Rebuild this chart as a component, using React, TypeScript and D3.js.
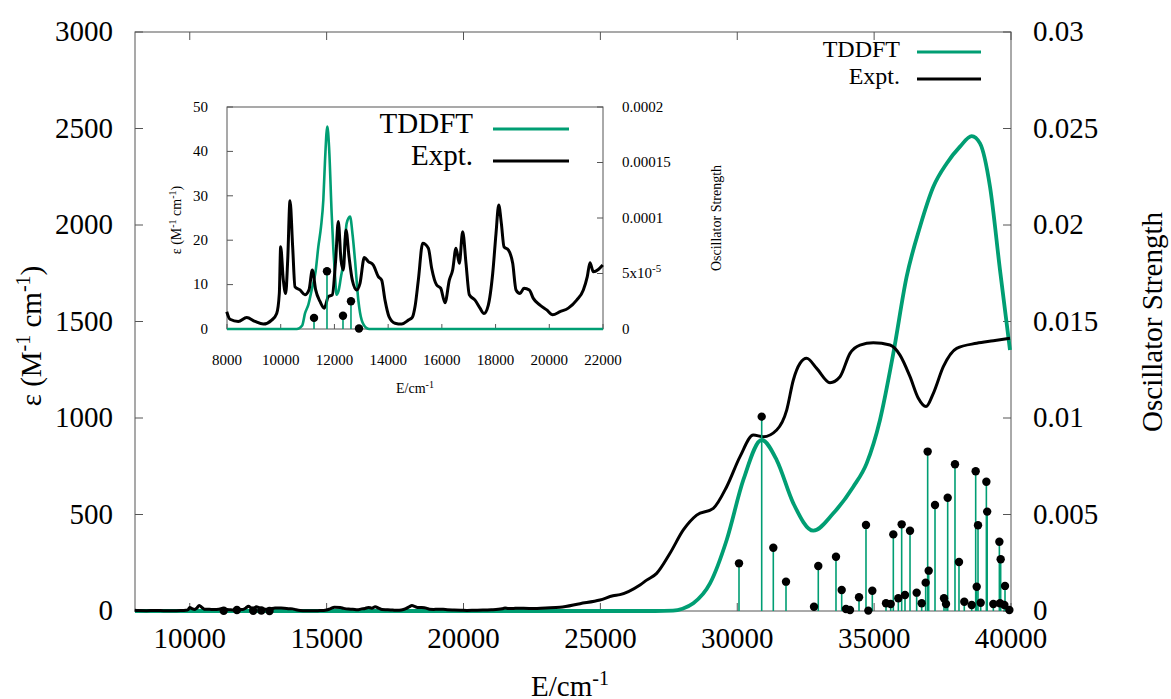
import React from "react";
import * as d3 from "d3";

// ---------- data ----------
// Experimental spectrum (E in cm^-1, epsilon in M^-1 cm^-1)
const exptE = [
  7990, 8112, 8422, 8733, 9043, 9353, 9664, 9850, 9948, 9998, 10097, 10185, 10260, 10346, 10445, 10532,
  10718, 10904, 11053, 11177, 11302, 11463, 11623, 11772, 11921, 12046, 12144, 12245, 12331, 12431, 12543,
  12666, 12829, 12952, 13113, 13262, 13448, 13634, 13759, 13883, 14032, 14255, 14505, 14753, 14900,
  15000, 15124, 15287, 15497, 15621, 15807, 15956, 16117, 16278, 16402, 16527, 16651, 16775, 16899, 17023,
  17234, 17420, 17569, 17730, 17893, 18016, 18117, 18215, 18314, 18474, 18638, 18761, 18910, 19059, 19256,
  19405, 19654, 19904, 20127, 20399, 20709, 21020, 21268, 21415, 21516, 21640, 21826, 21990,
  22400, 23000, 23525, 24256, 24986, 25461, 25717, 26447, 26691, 27056, 27543, 28030, 28517, 29126, 29614,
  30101, 30588, 30953, 31441, 31806, 32049, 32292, 32536, 32901, 33388, 33753, 34119, 34484, 34971, 35580,
  35945, 36311, 36615, 36895, 37163, 37528, 38015, 38746, 39355, 39963,
];
const exptEps = [
  3.9, 2.2, 1.7, 2.6, 1.7, 1.1, 2.0, 3.5, 8.0, 18.5, 11.0, 8.0, 15.5, 28.9, 18.5, 9.5,
  8.8, 7.7, 8.8, 13.3, 8.8, 6.2, 4.7, 7.3, 7.7, 15.5, 24.2, 15.5, 13.3, 22.3, 16.3,
  11.0, 8.8, 10.3, 16.1, 15.2, 14.4, 11.8, 11.0, 6.5, 2.8, 1.3, 1.1, 2.0, 2.6,
  5.0, 11.0, 19.3, 18.2, 13.7, 9.9, 9.2, 5.9, 11.0, 13.3, 18.2, 14.8, 21.9, 14.8, 7.7,
  6.5, 4.7, 3.5, 5.4, 12.5, 21.5, 27.9, 23.8, 18.5, 17.8, 14.8, 8.8, 8.0, 9.2, 8.8,
  6.9, 5.4, 4.3, 3.2, 3.9, 4.7, 6.5, 8.8, 11.8, 14.9, 12.9, 13.4, 14.4,
  13, 16, 19, 38, 57, 79, 85, 135, 160, 195, 299, 420, 497, 532, 644,
  800, 912, 903, 938, 1041, 1197, 1283, 1309, 1257, 1183, 1214, 1335, 1378, 1390, 1378,
  1326, 1214, 1102, 1059, 1128, 1266, 1361, 1387, 1400, 1413,
];

// TDDFT broadened spectrum, main panel
const tdE = [8000, 27000, 27650, 28000, 28395, 29005, 29614, 30222, 30893, 31441, 32049, 32779, 33509, 34240,
  34727, 35214, 35701, 36188, 36676, 37163, 37650, 38137, 38564, 38868, 39233, 39598, 39963];
const tdEps = [0, 0, 2, 12, 40, 143, 368, 679, 886, 782, 558, 416, 506, 644,
  765, 990, 1335, 1732, 1991, 2198, 2319, 2406, 2461, 2423, 2198, 1767, 1352];

// TDDFT broadened spectrum, inset (low-energy region)
const tdInE = [8000, 10600, 10800, 10904, 11030, 11153, 11300, 11400, 11500, 11586, 11650, 11735, 11800, 11897,
  11960, 12021, 12080, 12150, 12250, 12331, 12456, 12580, 12680, 12766, 12890, 13015, 13200, 13300, 22000];
const tdInEps = [0, 0, 0.8, 3.5, 5.5, 8.8, 13, 18.5, 23, 29, 38, 45.6, 41, 26,
  18, 12, 7.7, 8.5, 12, 14.8, 23.8, 25.3, 21, 15.5, 6.5, 2, 0.2, 0, 0];

// Oscillator strengths (sticks)
const stickE = [11240, 11723, 12319, 12616, 12914,
  30064, 30893, 31317, 31781, 32804, 32960, 33607, 33815, 33972, 34119, 34448, 34703, 34788, 34934,
  35434, 35605, 35701, 35884, 36006, 36128, 36311, 36554, 36737, 36883, 36956, 36993, 37224, 37553,
  37626, 37687, 37954, 38100, 38294, 38564, 38710, 38747, 38795, 38893, 39100, 39130, 39355, 39575,
  39623, 39598, 39781, 39757, 39940];
const stickF = [0.00001, 0.000052, 0.000012, 0.000025, 0.0000005,
  0.00247, 0.01007, 0.00328, 0.00152, 0.00022, 0.00233, 0.00281, 0.00109, 0.0001, 0.00005, 0.00071, 0.00446, 0.00002, 0.00105,
  0.0004, 0.00036, 0.00397, 0.00066, 0.00449, 0.00083, 0.00416, 0.00095, 0.0004, 0.00147, 0.00826, 0.00209, 0.00549, 0.00066,
  0.00036, 0.00587, 0.0076, 0.00254, 0.00048, 0.00031, 0.00724, 0.00126, 0.00444, 0.00043, 0.0067, 0.00515, 0.00036, 0.00359,
  0.00268, 0.0004, 0.0013, 0.00031, 0.00005];

// Tick labels
const mainXTicks = [10000, 15000, 20000, 25000, 30000, 35000, 40000];
const mainYTicks = [0, 500, 1000, 1500, 2000, 2500, 3000];
const mainY2Ticks = [0, 0.005, 0.01, 0.015, 0.02, 0.025, 0.03];
const mainY2Labels = ["0", "0.005", "0.01", "0.015", "0.02", "0.025", "0.03"];
const inXTicks = [8000, 10000, 12000, 14000, 16000, 18000, 20000, 22000];
const inYTicks = [0, 10, 20, 30, 40, 50];
const inY2Ticks = [0, 0.00005, 0.0001, 0.00015, 0.0002];
const inY2Labels = ["0", "5x10^-5", "0.0001", "0.00015", "0.0002"];
const seriesNames = ["TDDFT", "Expt."];

// ---------- styles ----------
const GREEN = "#009E73";
const FRAME = "#555";
const FONT = "'Liberation Serif', 'Times New Roman', serif";

const xM = d3.scaleLinear().domain([8000, 40000]).range([135, 1011]);
const yM = d3.scaleLinear().domain([0, 3000]).range([611, 32]);
const y2M = d3.scaleLinear().domain([0, 0.03]).range([611, 32]);

const xI = d3.scaleLinear().domain([8000, 22000]).range([227, 603]);
const yI = d3.scaleLinear().domain([0, 50]).range([329, 107]);
const y2I = d3.scaleLinear().domain([0, 0.0002]).range([329, 107]);

type P = [number, number];
const zip = (a: number[], b: number[]): P[] => a.map((v, i) => [v, b[i]]);

const expt = zip(exptE, exptEps);
const tdMain = zip(tdE, tdEps);
const tdIn = zip(tdInE, tdInEps);
const sticks = zip(stickE, stickF);

export default function App() {
  const lineMainExpt = d3.line<P>().x((d) => xM(d[0])).y((d) => yM(d[1])).curve(d3.curveMonotoneX);
  const lineMainTd = d3.line<P>().x((d) => xM(d[0])).y((d) => yM(d[1])).curve(d3.curveMonotoneX);
  const inExpt = expt.filter((d) => d[0] <= 22000);
  const lineInExpt = d3.line<P>().x((d) => xI(d[0])).y((d) => yI(d[1])).curve(d3.curveMonotoneX);
  const lineInTd = d3.line<P>().x((d) => xI(d[0])).y((d) => yI(d[1])).curve(d3.curveMonotoneX);
  const inSticks = sticks.filter((d) => d[0] <= 22000);

  const [x0, x1] = xM.range();
  const [yb, yt] = yM.range();
  const [ix0, ix1] = xI.range();
  const [iyb, iyt] = yI.range();

  return (
    <svg width={1171} height={699} style={{ position: "absolute", left: 0, top: 0, background: "#fff" }} fontFamily={FONT}>
      {/* main frame */}
      <rect x={x0} y={yt} width={x1 - x0} height={yb - yt} fill="none" stroke={FRAME} strokeWidth={1} />
      {mainXTicks.map((t) => (
        <g key={"mx" + t}>
          <line x1={xM(t)} x2={xM(t)} y1={yb} y2={yb - 8} stroke={FRAME} />
          <line x1={xM(t)} x2={xM(t)} y1={yt} y2={yt + 8} stroke={FRAME} />
          <text x={xM(t)} y={648} textAnchor="middle" fontSize={29}>{t}</text>
        </g>
      ))}
      {mainYTicks.map((t) => (
        <g key={"my" + t}>
          <line x1={x0} x2={x0 + 8} y1={yM(t)} y2={yM(t)} stroke={FRAME} />
          <text x={113} y={yM(t)} dy="0.32em" textAnchor="end" fontSize={29}>{t}</text>
        </g>
      ))}
      {mainY2Ticks.map((t, i) => (
        <g key={"my2" + t}>
          <line x1={x1} x2={x1 - 8} y1={y2M(t)} y2={y2M(t)} stroke={FRAME} />
          <text x={1033} y={y2M(t)} dy="0.32em" textAnchor="start" fontSize={29}>{mainY2Labels[i]}</text>
        </g>
      ))}

      {/* axis titles */}
      <text x={570} y={696} textAnchor="middle" fontSize={29}>
        E/cm<tspan dy={-11} fontSize={20}>-1</tspan>
      </text>
      <text transform="translate(41,336) rotate(-90)" textAnchor="middle" fontSize={29}>
        ε (M<tspan dy={-11} fontSize={20}>-1</tspan>
        <tspan dy={11}> cm</tspan>
        <tspan dy={-11} fontSize={20}>-1</tspan>
        <tspan dy={11}>)</tspan>
      </text>
      <text transform="translate(1162,322) rotate(-90)" textAnchor="middle" fontSize={29}>Oscillator Strength</text>

      {/* main curves */}
      <path d={lineMainTd(tdMain) || ""} fill="none" stroke={GREEN} strokeWidth={3.8} />
      <path d={lineMainExpt(expt) || ""} fill="none" stroke="#000" strokeWidth={3} strokeLinejoin="round" />
      {sticks.map((d, i) => (
        <line key={"ms" + i} x1={xM(d[0])} x2={xM(d[0])} y1={y2M(0)} y2={y2M(d[1])} stroke={GREEN} strokeWidth={1.6} />
      ))}
      {sticks.map((d, i) => (
        <circle key={"mc" + i} cx={xM(d[0])} cy={y2M(d[1])} r={4.2} fill="#000" />
      ))}

      {/* main legend */}
      {seriesNames.map((n, i) => (
        <g key={"ml" + n}>
          <text x={900} y={57 + i * 27} textAnchor="end" fontSize={24}>{n}</text>
          <line x1={917} x2={981} y1={52 + i * 27} y2={52 + i * 27} stroke={i === 0 ? GREEN : "#000"} strokeWidth={3} />
        </g>
      ))}

      {/* inset */}
      <rect x={ix0} y={iyt} width={ix1 - ix0} height={iyb - iyt} fill="#fff" stroke={FRAME} strokeWidth={1} />
      {inXTicks.map((t) => (
        <g key={"ix" + t}>
          <line x1={xI(t)} x2={xI(t)} y1={iyb} y2={iyb - 5} stroke={FRAME} />
          <text x={xI(t)} y={365} textAnchor="middle" fontSize={15}>{t}</text>
        </g>
      ))}
      {inYTicks.map((t) => (
        <g key={"iy" + t}>
          <line x1={ix0} x2={ix0 + 6} y1={yI(t)} y2={yI(t)} stroke={FRAME} />
          <text x={208} y={yI(t)} dy="0.32em" textAnchor="end" fontSize={15}>{t}</text>
        </g>
      ))}
      {inY2Ticks.map((t, i) => {
        const lab = inY2Labels[i];
        const parts = lab.split("^");
        return (
          <g key={"iy2" + t}>
            <line x1={ix1} x2={ix1 - 6} y1={y2I(t)} y2={y2I(t)} stroke={FRAME} />
            <text x={622} y={y2I(t)} dy="0.32em" textAnchor="start" fontSize={15}>
              {parts[0]}
              {parts[1] ? <tspan dy={-6} fontSize={11}>{parts[1]}</tspan> : null}
            </text>
          </g>
        );
      })}
      <text x={415} y={393} textAnchor="middle" fontSize={14}>
        E/cm<tspan dy={-5} fontSize={10}>-1</tspan>
      </text>
      <text transform="translate(181,220) rotate(-90)" textAnchor="middle" fontSize={14}>
        ε (M<tspan dy={-5} fontSize={10}>-1</tspan>
        <tspan dy={5}> cm</tspan>
        <tspan dy={-5} fontSize={10}>-1</tspan>
        <tspan dy={5}>)</tspan>
      </text>
      <text transform="translate(721,218) rotate(-90)" textAnchor="middle" fontSize={14}>Oscillator Strength</text>

      <path d={lineInTd(tdIn) || ""} fill="none" stroke={GREEN} strokeWidth={2.6} />
      <path d={lineInExpt(inExpt) || ""} fill="none" stroke="#000" strokeWidth={3} strokeLinejoin="round" />
      {inSticks.map((d, i) => (
        <line key={"is" + i} x1={xI(d[0])} x2={xI(d[0])} y1={y2I(0)} y2={y2I(d[1])} stroke={GREEN} strokeWidth={1.6} />
      ))}
      {inSticks.map((d, i) => (
        <circle key={"ic" + i} cx={xI(d[0])} cy={y2I(d[1])} r={4.2} fill="#000" />
      ))}
      {seriesNames.map((n, i) => (
        <g key={"il" + n}>
          <text x={473} y={133 + i * 32} textAnchor="end" fontSize={29}>{n}</text>
          <line x1={493} x2={569} y1={129 + i * 32} y2={129 + i * 32} stroke={i === 0 ? GREEN : "#000"} strokeWidth={3} />
        </g>
      ))}
    </svg>
  );
}
